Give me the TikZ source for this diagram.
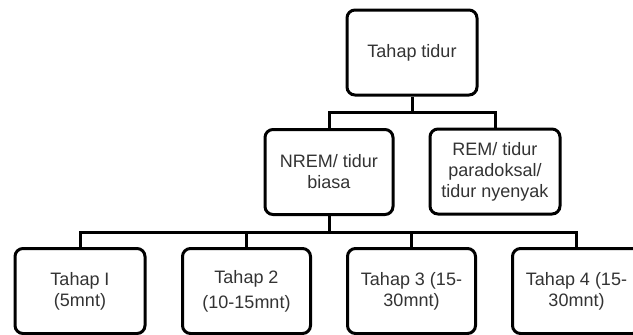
\documentclass[tikz,border=0pt]{standalone}
\usepackage{fontspec}
\setmainfont{Liberation Sans}
\usetikzlibrary{positioning}

\begin{document}
\begin{tikzpicture}[x=0.5pt,y=-0.5pt,
    stagebox/.style={draw=black,line width=1.5pt,rounded corners=4pt,fill=white,
      minimum width=64pt,minimum height=42.5pt,align=center,text=black!80,
      font=\fontsize{9}{10.5}\selectfont,inner sep=2pt},
    link/.style={line width=1.5pt}]
  \clip (0,0) rectangle (633,334);
  \useasboundingbox (0,0) rectangle (633,334);
  \node[stagebox,minimum width=65pt] (tidur) at (412,52.5) {Tahap tidur};
  \node[stagebox] (nrem) at (329,172) {NREM/ tidur\\biasa};
  \node[stagebox,minimum width=65pt] (rem) at (495,171.5) {REM/ tidur\\paradoksal/\\tidur nyenyak};
  \node[stagebox,minimum width=65pt] (tahapa) at (80,291) {Tahap I\\(5mnt)};
  \node[stagebox] (tahapb) at (246.5,291) {Tahap 2\\[2pt](10-15mnt)};
  \node[stagebox] (tahapc) at (411.5,291) {Tahap 3 (15-\\30mnt)};
  \node[stagebox] (tahapd) at (576.5,291) {Tahap 4 (15-\\30mnt)};
  \coordinate (busa) at (0,112);
  \coordinate (busb) at (0,232);
  % upper level
  \draw[link] (tidur.south) -- (tidur.south |- busa);
  \draw[link] (nrem.north) |- (rem.north |- busa) -- (rem.north);
  % lower level
  \draw[link] (nrem.south) -- (nrem.south |- busb);
  \draw[link] (tahapa.north) |- (tahapd.north |- busb) -- (tahapd.north);
  \draw[link] (tahapb.north) -- (tahapb.north |- busb);
  \draw[link] (tahapc.north) -- (tahapc.north |- busb);
\end{tikzpicture}
\end{document}
